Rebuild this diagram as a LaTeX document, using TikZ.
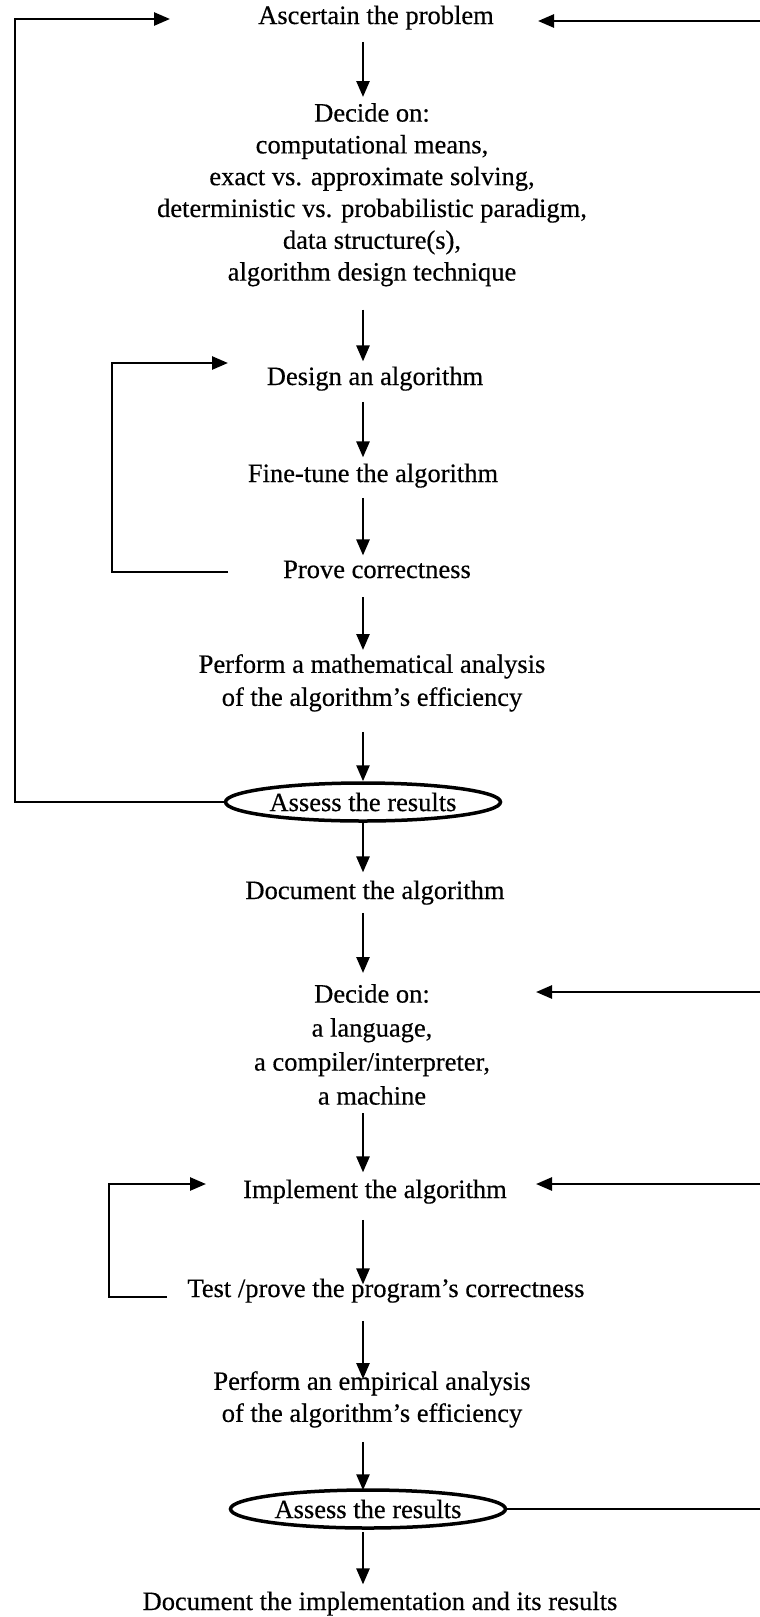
\documentclass[tikz,border=0pt]{standalone}
\usepackage{fontspec}
\setmainfont{Liberation Serif}[FakeBold=0.4]
\usetikzlibrary{arrows.meta,shapes.geometric}
\tikzset{
  txt/.style={font=\fontsize{26.5}{31.8}\selectfont, align=center, inner sep=0pt},
  flow/.style={line width=2.6pt, -{Triangle[length=16pt,width=13pt]}},
  assess/.style={ellipse, draw, line width=3.5pt, inner sep=0pt,
    minimum width=275pt, minimum height=38pt,
    font=\fontsize{26.5}{31.8}\selectfont},
}
\begin{document}
\begin{tikzpicture}[x=1pt,y=-1pt]
\useasboundingbox (0,0) rectangle (760,1617);
% axis of the vertical arrows
\coordinate (ax) at (363,0);
% Design phase
\node[txt,anchor=base] (ask) at (376,24) {Ascertain the problem};
\node[txt,anchor=north] (dec1) at (372,103) {Decide on:\\computational means,\\exact vs. approximate solving,\\deterministic vs. probabilistic paradigm,\\data structure(s),\\algorithm design technique};
\node[txt,anchor=base] (design) at (375,385) {Design an algorithm};
\node[txt,anchor=base] (tune) at (373,482) {Fine-tune the algorithm};
\node[txt,anchor=base] (prove) at (377,578) {Prove correctness};
\node[txt,anchor=north,font=\fontsize{26.5}{33}\selectfont] (math) at (372,654) {Perform a mathematical analysis\\of the algorithm's efficiency};
\node[assess] (assA) at (363,802) {Assess the results};
\node[txt,anchor=base] (docA) at (375,899) {Document the algorithm};
% Implementation phase
\node[txt,anchor=north,font=\fontsize{26.5}{34}\selectfont] (dec2) at (372,984) {Decide on:\\a language,\\a compiler/interpreter,\\a machine};
\node[txt,anchor=base] (impl) at (375,1198) {Implement the algorithm};
\node[txt,anchor=base] (test) at (386,1297) {Test /prove the program's correctness};
\node[txt,anchor=north,font=\fontsize{26.5}{32}\selectfont] (emp) at (372,1371) {Perform an empirical analysis\\of the algorithm's efficiency};
\node[assess] (assB) at (368,1509) {Assess the results};
\node[txt,anchor=base] (docB) at (380,1610) {Document the implementation and its results};
% Vertical arrows
\foreach \a/\b/\s/\e in {ask/dec1/12/6, dec1/design/23/5, design/tune/11/6,
    tune/prove/10/5, prove/math/19/4, math/assA/20/0, assA/docA/0/8,
    docA/dec2/8/11, dec2/impl/8/7, impl/test/16/-6, test/emp/18/-8,
    emp/assB/14/-2, assB/docB/2/7}
  \draw[flow, shorten <=\s pt, shorten >=\e pt] (\a.south -| ax) -- (\b.north -| ax);
% Feedback loops
\coordinate (lx) at (15,0);
\coordinate (rx) at (775,0);
\coordinate (askL) at (170,19);
\coordinate (askR) at (538,21);
\coordinate (dec2R) at (536,992);
\coordinate (implR) at (536,1184);
\draw[flow] (assA.west) -- (lx |- assA.west) |- (askL);
\draw[flow] (assB.east) -- (rx |- assB.east) |- (askR);
\draw[flow] (rx |- dec2R) -- (dec2R);
\draw[flow] (rx |- implR) -- (implR);
\coordinate (proveL) at (228,572);
\coordinate (designL) at (228,363);
\draw[flow] (proveL) -- (112,572) |- (designL);
\coordinate (testL) at (167,1297);
\coordinate (implL) at (206,1184);
\draw[flow] (testL) -- (109,1297) |- (implL);
\end{tikzpicture}
\end{document}
